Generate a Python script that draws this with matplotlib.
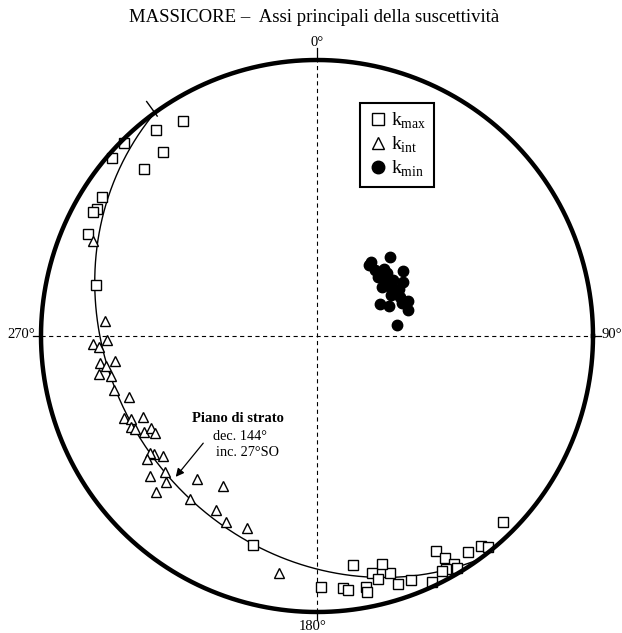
import numpy as np
import matplotlib
matplotlib.use('Agg')
import matplotlib.pyplot as plt
from matplotlib.lines import Line2D

# ---- data: principal susceptibility axes (declination / inclination, degrees) ----
kmax_dec = [328, 322, 315, 320, 311, 314, 303, 300, 299, 294, 283, 135, 142, 141, 145, 151, 150, 149,
            151, 152, 149, 155, 159, 162, 163, 164, 167, 166, 169, 169, 171, 174, 173, 179, 197]
kmax_inc = [9, 6, 1, 14, 2, 14, 8, 9, 8, 10, 19, 5, 4, 2, 5, 12, 8, 4,
            4, 4, 2, 2, 6, 6, 11, 15, 13, 10, 8, 6, 17, 9, 8, 10, 22]
kint_dec = [293, 274, 268, 267, 269, 263, 263, 262, 260, 259, 255, 252, 247, 246, 245, 244, 243, 241,
            241, 239, 234, 232, 235, 234, 228, 230, 226, 220, 212, 218, 226, 210, 206, 200, 189]
kint_inc = [13, 24, 20, 22, 25, 22, 27, 24, 21, 25, 25, 29, 25, 27, 31, 26, 27, 29,
            32, 32, 28, 30, 27, 25, 27, 22, 25, 33, 36, 26, 20, 28, 26, 27, 14]
kmin_dec = [43, 36, 36, 41, 45, 48, 53, 46, 51, 54, 58, 53, 57, 60, 61, 65, 69, 63, 67, 69, 74, 82]
kmin_inc = [58, 63, 64, 64, 62, 62, 58, 65, 64, 62, 60, 66, 64, 62, 65, 63, 61, 69, 67, 63, 62, 66]

bed_strike = 144
bed_dip = 27
legend_labels = [r'k$_{\mathrm{max}}$', r'k$_{\mathrm{int}}$', r'k$_{\mathrm{min}}$']
title = 'MASSICORE \u2013  Assi principali della suscettività'
dir_labels = ['0°', '90°', '180°', '270°']


def proj(trend, plunge):
    """Lambert equal-area (Schmidt net), lower hemisphere."""
    t = np.radians(np.asarray(trend, float))
    p = np.radians(np.asarray(plunge, float))
    r = np.sqrt(2) * np.sin((np.pi / 2 - p) / 2)
    return r * np.sin(t), r * np.cos(t)


plt.rcParams['font.family'] = ['Liberation Serif', 'DejaVu Serif']
plt.rcParams['mathtext.fontset'] = 'custom'
plt.rcParams['mathtext.rm'] = 'Liberation Serif'
plt.rcParams['lines.scale_dashes'] = False

W, H = 622, 633
CX, CY, R = 317, 336, 276
fig = plt.figure(figsize=(W / 100, H / 100), dpi=100)
ax = fig.add_axes([0, 0, 1, 1])
ax.set_xlim(-CX / R, (W - CX) / R)
ax.set_ylim(-(H - CY) / R, CY / R)
ax.axis('off')

# primitive circle
th = np.linspace(0, 2 * np.pi, 721)
ax.plot(np.cos(th), np.sin(th), color='black', lw=3.2, zorder=5)
# N-S and E-W dashed lines with small ticks outside
ax.plot([0, 0], [-1, 1], color='black', lw=0.8, dashes=(3, 2.5), zorder=1)
ax.plot([-1, 1], [0, 0], color='black', lw=0.8, dashes=(3, 2.5), zorder=1)
for a, b in [((0, 0), (1, 1.045)), ((0, 0), (-1, -1.03)), ((-1, -1.03), (0, 0)), ((1, 1.03), (0, 0))]:
    ax.plot(a, b, color='black', lw=0.9, zorder=1)

# bedding plane great circle
dd = bed_strike + 90
s = np.array([np.sin(np.radians(bed_strike)), np.cos(np.radians(bed_strike)), 0])
d = np.array([np.sin(np.radians(dd)) * np.cos(np.radians(bed_dip)),
              np.cos(np.radians(dd)) * np.cos(np.radians(bed_dip)),
              np.sin(np.radians(bed_dip))])
tt = np.linspace(0, np.pi, 400)
v = np.outer(np.cos(tt), s) + np.outer(np.sin(tt), d)
gt = np.degrees(np.arctan2(v[:, 0], v[:, 1]))
gp = np.degrees(np.arcsin(np.clip(v[:, 2], -1, 1)))
gx, gy = proj(gt, gp)
ax.plot(gx, gy, color='black', lw=1.0, zorder=2)
tx, ty = proj([bed_strike + 180], [0])
ax.plot([tx[0] * 0.985, tx[0] * 1.05], [ty[0] * 0.985, ty[0] * 1.05], color='black', lw=1.0, zorder=2)

# axes
mx, my = proj(kmax_dec, kmax_inc)
ax.plot(mx, my, 's', ms=6.5, mfc='white', mec='black', mew=1.0, ls='none', zorder=4)
ix, iy = proj(kint_dec, kint_inc)
ax.plot(ix, iy, '^', ms=7.5, mfc='white', mec='black', mew=1.0, ls='none', zorder=4)
nx, ny = proj(kmin_dec, kmin_inc)
ax.plot(nx, ny, 'o', ms=7.5, mfc='black', mec='black', ls='none', zorder=4)

fig.text(314 / W, 1 - 17 / H, title, ha='center', va='center', fontsize=13.5)
fig.text(317 / W, 1 - 43 / H, dir_labels[0], ha='center', va='center', fontsize=10.5)
fig.text(612 / W, 1 - 335 / H, dir_labels[1], ha='center', va='center', fontsize=10.5)
fig.text(313 / W, 1 - 627 / H, dir_labels[2], ha='center', va='center', fontsize=10.5)
fig.text(21 / W, 1 - 335 / H, dir_labels[3], ha='center', va='center', fontsize=10.5)

fig.text(192 / W, 1 - 419 / H, 'Piano di strato', ha='left', va='center', fontsize=10.5, fontweight='bold')
fig.text(213 / W, 1 - 436 / H, 'dec. %d°' % bed_strike, ha='left', va='center', fontsize=10.3)
fig.text(216 / W, 1 - 452 / H, 'inc. %d°SO' % bed_dip, ha='left', va='center', fontsize=10.3)
ax.annotate('', xy=(174 / W, 1 - 479 / H), xycoords='figure fraction',
            xytext=(205 / W, 1 - 441 / H), textcoords='figure fraction',
            arrowprops=dict(arrowstyle='-|>', color='black', lw=0.9, mutation_scale=12))

handles = [Line2D([], [], marker='s', ls='none', ms=8, mfc='white', mec='black', mew=1.0),
           Line2D([], [], marker='^', ls='none', ms=8, mfc='white', mec='black', mew=1.0),
           Line2D([], [], marker='o', ls='none', ms=9, mfc='black', mec='black')]
leg = ax.legend(handles, legend_labels,
                loc='upper left', bbox_to_anchor=(360 / W, 1 - 103 / H), bbox_transform=fig.transFigure,
                borderaxespad=0, fancybox=False, edgecolor='black', framealpha=1, fontsize=14,
                handletextpad=0.2, handlelength=1.0, labelspacing=0.2, borderpad=0.4)
leg.get_frame().set_linewidth(1.5)

fig.savefig('out.png', dpi=100)
